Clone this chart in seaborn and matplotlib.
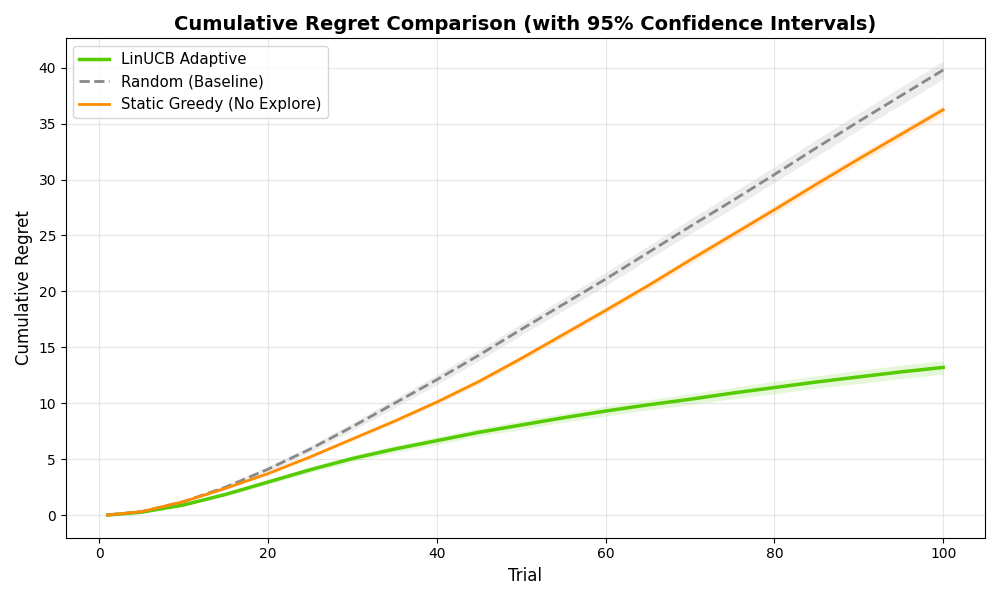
import matplotlib
matplotlib.use("Agg")
import matplotlib.pyplot as plt
import seaborn as sns
import pandas as pd
import numpy as np

# values, every 5 trials
trials = [1, 5, 10, 15, 20, 25, 30, 35, 40, 45, 50, 55, 60, 65, 70, 75, 80, 85, 90, 95, 100]

linucb = [0.0, 0.25, 0.9, 1.85, 2.95, 4.05, 5.05, 5.9, 6.65, 7.4, 8.05, 8.7, 9.3, 9.85, 10.35, 10.9, 11.4, 11.9, 12.35, 12.8, 13.2]
linucb_ci = [0.0, 0.05, 0.1, 0.15, 0.2, 0.25, 0.3, 0.3, 0.35, 0.35, 0.4, 0.4, 0.45, 0.45, 0.5, 0.5, 0.55, 0.55, 0.6, 0.6, 0.6]

random_base = [0.0, 0.3, 1.2, 2.5, 4.1, 5.9, 7.9, 10.0, 12.1, 14.3, 16.6, 18.85, 21.1, 23.45, 25.8, 28.1, 30.45, 32.85, 35.2, 37.5, 39.8]
random_ci = [0.0, 0.05, 0.1, 0.2, 0.25, 0.3, 0.35, 0.4, 0.45, 0.5, 0.5, 0.55, 0.6, 0.6, 0.65, 0.7, 0.7, 0.75, 0.75, 0.8, 0.8]

greedy = [0.0, 0.3, 1.2, 2.4, 3.7, 5.2, 6.8, 8.4, 10.1, 11.95, 14.0, 16.15, 18.3, 20.5, 22.8, 25.05, 27.3, 29.6, 31.85, 34.05, 36.25]
greedy_ci = [0.0, 0.03, 0.06, 0.1, 0.12, 0.15, 0.18, 0.2, 0.22, 0.25, 0.27, 0.3, 0.3, 0.32, 0.35, 0.35, 0.37, 0.4, 0.4, 0.4, 0.4]

labels = ["LinUCB Adaptive", "Random (Baseline)", "Static Greedy (No Explore)"]
colors = ["#55cc00", "#888888", "darkorange"]
styles = ["-", "--", "-"]
widths = [2.5, 2, 2]

series = [linucb, random_base, greedy]
cis = [linucb_ci, random_ci, greedy_ci]

fig, ax = plt.subplots(figsize=(10, 6), dpi=100)

for lab, vals, ci, col, ls, lw in zip(labels, series, cis, colors, styles, widths):
    df = pd.DataFrame({"Trial": trials, "Regret": vals})
    sns.lineplot(data=df, x="Trial", y="Regret", ax=ax, color=col, linestyle=ls,
                 linewidth=lw, label=lab)
    lo = np.array(vals) - np.array(ci)
    hi = np.array(vals) + np.array(ci)
    ax.fill_between(trials, lo, hi, color=col, alpha=0.15, linewidth=0)

ax.set_title("Cumulative Regret Comparison (with 95% Confidence Intervals)",
             fontsize=14, fontweight="bold")
ax.set_xlabel("Trial", fontsize=12)
ax.set_ylabel("Cumulative Regret", fontsize=12)
ax.grid(True, alpha=0.3)
ax.legend(loc="upper left", fontsize=10.8)

plt.tight_layout()
plt.savefig("out.png")
